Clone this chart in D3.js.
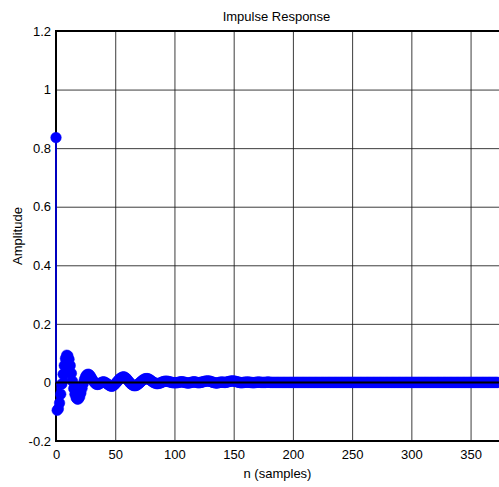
<!DOCTYPE html>
<html><head><meta charset="utf-8">
<script src="https://cdn.jsdelivr.net/npm/d3@7/dist/d3.min.js"></script>
<style>
body{margin:0;background:#fff}
svg{display:block}
text{font-family:"Liberation Sans",Arial,Helvetica,sans-serif;fill:#000}
</style>
</head><body>
<svg id="c" width="499" height="487"></svg>
<script>
// impulse response samples h[n], n = 0..100
const hEarly = [
  0.836, -0.095, -0.09, -0.07, -0.04, -0.005, 0.028, 0.058, 0.082, 0.093,
  0.091, 0.079, 0.058, 0.031, 0.004, -0.021, -0.04, -0.052, -0.057, -0.056,
  -0.049, -0.036, -0.02, -0.004, 0.01, 0.02, 0.026, 0.028, 0.027, 0.022,
  0.015, 0.008, 0.002, -0.003, -0.006, -0.007, -0.006, -0.004, -0.001, 0.001,
  0.002, 0.001, -0.001, -0.004, -0.007, -0.01, -0.012, -0.013, -0.012, -0.009,
  -0.005, 0, 0.004, 0.009, 0.013, 0.016, 0.018, 0.019, 0.018, 0.015,
  0.011, 0.006, 0.001, -0.004, -0.007, -0.01, -0.011, -0.011, -0.01, -0.007,
  -0.004, 0, 0.004, 0.007, 0.01, 0.012, 0.013, 0.013, 0.012, 0.01,
  0.007, 0.004, 0.001, -0.001, -0.003, -0.004, -0.004, -0.003, -0.002, 0,
  0.002, 0.003, 0.004, 0.004, 0.004, 0.003, 0.002, 0.001, 0, -0.001, -0.001
];
// n = 101..160
const hMid = [
  -0.001, -0.001, 0, 0.001, 0.002, 0.002, 0.002, 0.001, 0, -0.001,
  -0.002, -0.002, -0.001, 0, 0.001, 0.002, 0.002, 0.001, 0, -0.001,
  -0.001, 0, 0.001, 0.002, 0.003, 0.004, 0.005, 0.005, 0.005, 0.004,
  0.003, 0.001, 0, -0.001, -0.002, -0.002, -0.001, 0, 0.001, 0.001,
  0.001, 0, 0, 0.001, 0.002, 0.003, 0.004, 0.005, 0.005, 0.005,
  0.004, 0.003, 0.002, 0.001, 0, -0.001, -0.001, 0, 0, 0.001
];
// n = 161..373
const hTail = [
  0.001, 0.001, 0.001, 0, 0, -0.001, -0.001, 0, 0, 0.001,
  0.001, 0.001, 0, 0, 0, 0, 0, 0.001, 0.001, 0.001,
  0,0,0,0,0,0,0,0,0,0, 0,0,0,0,0,0,0,0,0,0,
  0,0,0,0,0,0,0,0,0,0, 0,0,0,0,0,0,0,0,0,0,
  0,0,0,0,0,0,0,0,0,0, 0,0,0,0,0,0,0,0,0,0,
  0,0,0,0,0,0,0,0,0,0, 0,0,0,0,0,0,0,0,0,0,
  0,0,0,0,0,0,0,0,0,0, 0,0,0,0,0,0,0,0,0,0,
  0,0,0,0,0,0,0,0,0,0, 0,0,0,0,0,0,0,0,0,0,
  0,0,0,0,0,0,0,0,0,0, 0,0,0,0,0,0,0,0,0,0,
  0,0,0,0,0,0,0,0,0,0, 0,0,0,0,0,0,0,0,0,0,
  0,0,0,0,0,0,0,0,0,0, 0,0,0,0,0,0,0,0,0,0,
  0,0,0,0,0,0,0,0,0,0, 0,0,0
];
const xTicks = [0, 50, 100, 150, 200, 250, 300, 350];
const yTicks = [-0.2, 0, 0.2, 0.4, 0.6, 0.8, 1, 1.2];
const yTickLabels = ["-0.2", "0", "0.2", "0.4", "0.6", "0.8", "1", "1.2"];
const title = "Impulse Response";
const xLabel = "n (samples)";
const yLabel = "Amplitude";

const h = hEarly.concat(hMid, hTail);
const data = h.map((v, i) => ({ n: i, v: v }));

const svg = d3.select("#c");
const x = d3.scaleLinear().domain([0, 374]).range([56, 499]);
const y = d3.scaleLinear().domain([-0.2, 1.2]).range([441, 31]);
const [x0, x1] = x.range();
const [yb, yt] = y.range();

// grid via axes
const gx = svg.append("g").attr("transform", `translate(0,${yb})`)
  .call(d3.axisBottom(x).tickValues(xTicks).tickSize(-(yb - yt)).tickPadding(9)
    .tickFormat(d3.format("d")));
gx.select(".domain").remove();
gx.selectAll("line").attr("stroke", "#1a1a1a").attr("stroke-width", 1).attr("stroke-opacity", 0.85);
gx.selectAll("text").attr("font-size", 13).attr("font-family", '"Liberation Sans",Arial,sans-serif').attr("fill", "#000");

const gy = svg.append("g").attr("transform", `translate(${x0},0)`)
  .call(d3.axisLeft(y).tickValues(yTicks).tickSize(-(x1 - x0)).tickPadding(5)
    .tickFormat((d, i) => yTickLabels[i]));
gy.select(".domain").remove();
gy.selectAll("line").attr("stroke", "#1a1a1a").attr("stroke-width", 1).attr("stroke-opacity", 0.85);
gy.selectAll("text").attr("font-size", 13).attr("font-family", '"Liberation Sans",Arial,sans-serif').attr("fill", "#000");

// frame
const frame = svg.append("g").attr("stroke", "#000").attr("stroke-width", 2).attr("fill", "none");
frame.append("line").attr("x1", x0).attr("x2", x1).attr("y1", yt).attr("y2", yt);
frame.append("line").attr("x1", x0).attr("x2", x1).attr("y1", yb).attr("y2", yb);
frame.append("line").attr("x1", x0).attr("x2", x0).attr("y1", yt - 1).attr("y2", yb + 1);

// stems
svg.append("g").selectAll("line").data(data).join("line")
  .attr("x1", d => x(d.n)).attr("x2", d => x(d.n))
  .attr("y1", y(0)).attr("y2", d => y(d.v))
  .attr("stroke", "#0000ff").attr("stroke-width", 1.5);

// markers
svg.append("g").selectAll("circle").data(data).join("circle")
  .attr("cx", d => x(d.n)).attr("cy", d => y(d.v)).attr("r", 5.3)
  .attr("fill", "#0000ff").attr("stroke", "#0000ff").attr("stroke-width", 0.5);

// baseline
svg.append("line").attr("x1", x0).attr("x2", x1).attr("y1", y(0)).attr("y2", y(0))
  .attr("stroke", "#000").attr("stroke-width", 2);

// titles
svg.append("text").attr("x", (x0 + x1) / 2 - 1).attr("y", 21).attr("text-anchor", "middle")
  .attr("font-size", 13).text(title);
svg.append("text").attr("x", (x0 + x1) / 2).attr("y", 478).attr("text-anchor", "middle")
  .attr("font-size", 13).text(xLabel);
svg.append("text").attr("transform", `translate(22,${(yt + yb) / 2}) rotate(-90)`)
  .attr("text-anchor", "middle").attr("font-size", 13).text(yLabel);
</script>
</body></html>
